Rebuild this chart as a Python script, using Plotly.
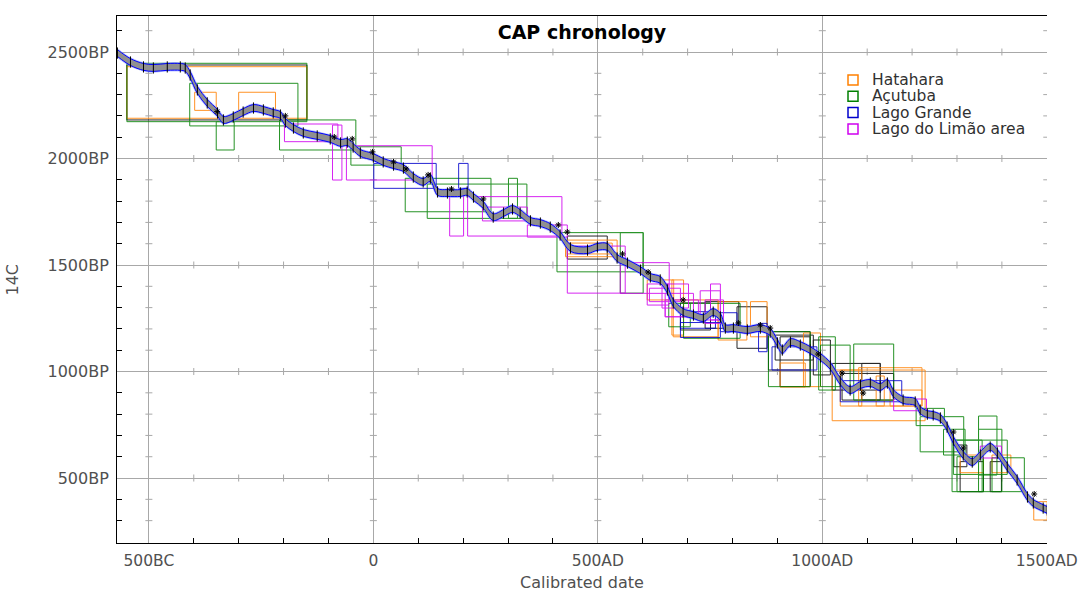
import plotly.graph_objects as go

# ---------------- data ----------------
CURVE_X = [-570, -541, -512, -490, -459, -430, -419, -408, -392, -370, -347, -334, -312, -290, -267, -245,
           -223, -207, -196, -178, -156, -125, -96, -73, -58, -45, -29, 0, 22, 45, 67, 89, 111, 127, 143,
           165, 194, 209, 223, 245, 267, 290, 310, 327, 350, 372, 394, 416, 439, 477, 499, 521, 543, 566,
           595, 617, 639, 655, 668, 690, 713, 735, 757, 773, 784, 802, 833, 862, 884, 900, 911, 929, 951,
           973, 996, 1018, 1040, 1062, 1085, 1107, 1129, 1145, 1158, 1180, 1207, 1218, 1234, 1247, 1263,
           1278, 1292, 1314, 1334, 1352, 1374, 1390, 1412, 1434, 1457, 1470, 1492, 1501]
CURVE_Y = [2495, 2453, 2430, 2425, 2430, 2430, 2425, 2392, 2322, 2261, 2214, 2181, 2195, 2218, 2237, 2228,
           2214, 2204, 2171, 2143, 2120, 2106, 2092, 2073, 2077, 2054, 2026, 2007, 1984, 1969, 1955, 1913,
           1890, 1908, 1843, 1838, 1838, 1843, 1819, 1782, 1725, 1744, 1763, 1744, 1707, 1697, 1678, 1641,
           1580, 1570, 1585, 1585, 1533, 1509, 1476, 1444, 1430, 1383, 1322, 1279, 1265, 1251, 1279, 1256,
           1204, 1204, 1195, 1204, 1185, 1134, 1101, 1138, 1124, 1101, 1068, 1026, 955, 913, 937, 946, 927,
           946, 899, 866, 857, 819, 800, 796, 782, 739, 678, 608, 575, 608, 646, 617, 552, 491, 411, 383,
           359, 350]
CURVE_SIGMA = 16

# boxes: calibrated range (x0, x1) and 14C range (y0, y1)
HAT_X0 = [-549, -398, -300, 428, 432, 665, 668, 768, 840, 1022, 1040, 1081, 1120, 1151, 1307, 1378, 1471, 610, 958, 906]
HAT_X1 = [-148, -350, -218, 543, 532, 691, 768, 832, 877, 1229, 1088, 1222, 1138, 1222, 1359, 1420, 1501, 669, 996, 962]
HAT_Y0 = [2189, 2226, 2226, 1539, 1552, 1171, 1163, 1148, 1163, 769, 838, 838, 838, 838, 525, 525, 303, 1336, 929, 927]
HAT_Y1 = [2431, 2311, 2311, 1617, 1603, 1430, 1336, 1328, 1328, 1007, 1007, 1018, 979, 913, 608, 608, 389, 1430, 1181, 1040]

ACU_X0 = [-549, -409, -350, -209, -50, 71, 120, 301, 409, 550, 658, 691, 880, 992, 996, 1070, 1209, 1218, 1270, 1289, 1300, 1348, 1348, 1378, 1292]
ACU_X1 = [-148, -168, -310, -39, 62, 262, 342, 321, 601, 601, 706, 817, 973, 1029, 1062, 1159, 1272, 1315, 1318, 1356, 1359, 1389, 1400, 1450, 1412]
ACU_Y0 = [2173, 2153, 2040, 2040, 1969, 1750, 1719, 1719, 1468, 1368, 1210, 1156, 929, 913, 929, 866, 746, 623, 608, 436, 436, 514, 436, 436, 517]
ACU_Y1 = [2447, 2353, 2173, 2181, 2055, 1907, 1880, 1907, 1652, 1652, 1320, 1320, 1187, 1163, 1124, 1129, 827, 788, 729, 678, 600, 791, 729, 595, 678]

LAG_X0 = [1, 190, 684, 773, 858, 888, 1040, 684]
LAG_X1 = [140, 211, 762, 810, 877, 988, 1177, 773]
LAG_Y0 = [1860, 1860, 1203, 1187, 1093, 1007, 858, 1160]
LAG_Y1 = [1977, 1977, 1281, 1276, 1226, 1116, 957, 1230]

LIM_X0 = [-198, -91, -60, 170, 210, 243, 343, 432, 550, 610, 643, 615, 650, 650, 728, 751, 739, 1159, 1352]
LIM_X1 = [-79, -70, 131, 201, 420, 343, 432, 561, 659, 658, 702, 684, 713, 724, 773, 773, 780, 1232, 1399]
LIM_Y0 = [2079, 1899, 1899, 1636, 1636, 1707, 1631, 1368, 1367, 1312, 1298, 1328, 1257, 1257, 1242, 1242, 1226, 816, 594]
LIM_Y1 = [2162, 2157, 2060, 1829, 1821, 1772, 1688, 1589, 1511, 1411, 1411, 1391, 1367, 1336, 1379, 1411, 1336, 871, 650]

OTH_X0 = [-549, 432, 739, 810, 880, 906, 895, 1022, 1044, 1088, 1293, 1307, 1374, 684, 980]
OTH_X1 = [-148, 521, 814, 877, 973, 973, 980, 1129, 1159, 1129, 1322, 1359, 1399, 751, 1018]
OTH_Y0 = [2181, 1528, 1203, 1109, 1007, 929, 1054, 913, 866, 866, 553, 436, 436, 1195, 984]
OTH_Y1 = [2439, 1636, 1328, 1304, 1187, 1163, 1171, 1038, 991, 1038, 655, 577, 577, 1322, 1148]

STAR_X = [-348, -196, -87, -47, -2, 45, 73, 122, 174, 245, 412, 432, 555, 612, 690, 813, 862, 884, 991, 1044, 1091, 1292, 1314, 1472]
STAR_Y = [2220, 2200, 2101, 2092, 2031, 1984, 1951, 1923, 1857, 1810, 1688, 1655, 1552, 1467, 1336, 1228, 1218, 1204, 1082, 993, 899, 716, 641, 425]

SITES = ["Hatahara", "Açutuba", "Lago Grande", "Lago do Limão area"]
X_TICKS = [-500, 0, 500, 1000, 1500]
X_LABELS = ["500BC", "0", "500AD", "1000AD", "1500AD"]
Y_TICKS = [500, 1000, 1500, 2000, 2500]
Y_LABELS = ["500BP", "1000BP", "1500BP", "2000BP", "2500BP"]
X_MINOR = [v for v in range(-500, 1501, 100) if v not in X_TICKS]
Y_MINOR = [v for v in range(300, 2701, 100) if v not in Y_TICKS]

COLORS = ["#ff8000", "#008000", "#0000cc", "#d000f0"]
GRID = "#a8a8a8"
FONT = "DejaVu Sans, Arial, sans-serif"
TXT = "#505050"


def rect_path(x0s, x1s, y0s, y1s):
    xs, ys = [], []
    for a, b, c, d in zip(x0s, x1s, y0s, y1s):
        xs += [a, b, b, a, a, None]
        ys += [c, c, d, d, c, None]
    return xs, ys


fig = go.Figure()

# gridline cross marks (OxCal style)
cx, cy = [], []
for yv in Y_TICKS:
    for xv in X_MINOR:
        cx.append(xv); cy.append(yv)
fig.add_trace(go.Scatter(x=cx, y=cy, mode="markers", hoverinfo="skip", showlegend=False,
                         marker=dict(symbol="line-ns-open", size=5, color=GRID, line=dict(color=GRID, width=1))))
cx, cy = [], []
for xv in X_TICKS:
    for yv in Y_MINOR:
        cx.append(xv); cy.append(yv)
fig.add_trace(go.Scatter(x=cx, y=cy, mode="markers", hoverinfo="skip", showlegend=False,
                         marker=dict(symbol="line-ew-open", size=5, color=GRID, line=dict(color=GRID, width=1))))

groups = [
    (OTH_X0, OTH_X1, OTH_Y0, OTH_Y1, "#000000"),
    (HAT_X0, HAT_X1, HAT_Y0, HAT_Y1, COLORS[0]),
    (ACU_X0, ACU_X1, ACU_Y0, ACU_Y1, COLORS[1]),
    (LAG_X0, LAG_X1, LAG_Y0, LAG_Y1, COLORS[2]),
    (LIM_X0, LIM_X1, LIM_Y0, LIM_Y1, COLORS[3]),
]
for x0s, x1s, y0s, y1s, col in groups:
    xs, ys = rect_path(x0s, x1s, y0s, y1s)
    fig.add_trace(go.Scatter(x=xs, y=ys, mode="lines", showlegend=False, hoverinfo="skip",
                             line=dict(color=col, width=1), opacity=0.85))

# calibration curve band
upper = [v + CURVE_SIGMA for v in CURVE_Y]
lower = [v - CURVE_SIGMA for v in CURVE_Y]
for ys_ in (upper, lower):
    fig.add_trace(go.Scatter(x=CURVE_X, y=ys_, mode="lines", showlegend=False, hoverinfo="skip",
                             line=dict(color="rgba(110,130,255,0.45)", width=2.5, shape="spline")))
fig.add_trace(go.Scatter(x=CURVE_X, y=upper, mode="lines", showlegend=False, hoverinfo="skip",
                         line=dict(color="#0000ff", width=1, shape="spline")))
fig.add_trace(go.Scatter(x=CURVE_X, y=lower, mode="lines", showlegend=False, hoverinfo="skip",
                         fill="tonexty", fillcolor="#909090", line=dict(color="#0000ff", width=1, shape="spline")))
fig.add_trace(go.Scatter(x=CURVE_X, y=CURVE_Y, mode="markers", showlegend=False, hoverinfo="skip",
                         marker=dict(symbol="line-ns-open", size=8, color="#000000",
                                     line=dict(color="#000000", width=1))))

# asterisks
fig.add_trace(go.Scatter(x=STAR_X, y=STAR_Y, mode="markers", showlegend=False, hoverinfo="skip",
                         marker=dict(symbol="asterisk-open", size=5, color="#000000",
                                     line=dict(color="#000000", width=1))))

# legend (drawn in paper coordinates: open squares + labels)
PLOT_L, PLOT_T, PLOT_W, PLOT_H = 117, 16, 930, 527
for i, (name, col) in enumerate(zip(SITES, COLORS)):
    fy = 80 + 16.3 * i
    py = (PLOT_T + PLOT_H - fy) / PLOT_H
    sx0 = (848 - PLOT_L) / PLOT_W
    sx1 = (858 - PLOT_L) / PLOT_W
    hh = 5 / PLOT_H
    fig.add_shape(type="rect", xref="paper", yref="paper", x0=sx0, x1=sx1, y0=py - hh, y1=py + hh,
                  line=dict(color=col, width=1.5), fillcolor="rgba(0,0,0,0)")
    fig.add_annotation(xref="paper", yref="paper", x=(870 - PLOT_L) / PLOT_W, y=py, text=name,
                       showarrow=False, xanchor="left", yanchor="middle",
                       font=dict(family=FONT, size=15.5, color="#303030"))

# y-axis title placed as a rotated annotation
fig.add_annotation(xref="paper", yref="paper", x=(12 - PLOT_L) / PLOT_W, y=0.5, text="14C",
                   textangle=-90, showarrow=False, xanchor="center", yanchor="middle",
                   font=dict(family=FONT, size=16, color=TXT))

fig.update_layout(
    width=1079, height=592,
    margin=dict(l=117, r=32, t=16, b=49, autoexpand=False),
    paper_bgcolor="white", plot_bgcolor="white",
    font=dict(family=FONT, size=16, color=TXT),
    title=dict(text="<b>CAP chronology</b>", x=0.5, xanchor="center", xref="paper",
               y=1 - 32 / 592, yanchor="middle", yref="container",
               font=dict(size=19, color="#000000", family=FONT)),
    showlegend=False,
)
fig.update_xaxes(range=[-571, 1500.5], tickmode="array", tickvals=X_TICKS, ticktext=X_LABELS,
                 showgrid=True, gridcolor=GRID, gridwidth=1, zeroline=False, automargin=False,
                 showline=True, linecolor="#000000", linewidth=1, mirror=True,
                 ticks="", ticklabelstandoff=3, tickfont=dict(size=15.5, color=TXT),
                 title=dict(text="Calibrated date", standoff=10, font=dict(size=16, color=TXT)),
                 minor=dict(tickvals=X_MINOR, ticks="inside", ticklen=5, tickcolor="#000000", showgrid=False))
fig.update_yaxes(range=[195, 2669], tickmode="array", tickvals=Y_TICKS, ticktext=Y_LABELS,
                 showgrid=True, gridcolor=GRID, gridwidth=1, zeroline=False, automargin=False,
                 showline=True, linecolor="#000000", linewidth=1, mirror=False,
                 ticks="", ticklabelstandoff=4, tickfont=dict(size=16, color=TXT),
                 minor=dict(tickvals=Y_MINOR, ticks="inside", ticklen=5, tickcolor="#000000", showgrid=False))

fig.write_html("out.html", config={"displayModeBar": False},
               post_script="document.body.style.margin='0';document.body.style.overflow='hidden';")
